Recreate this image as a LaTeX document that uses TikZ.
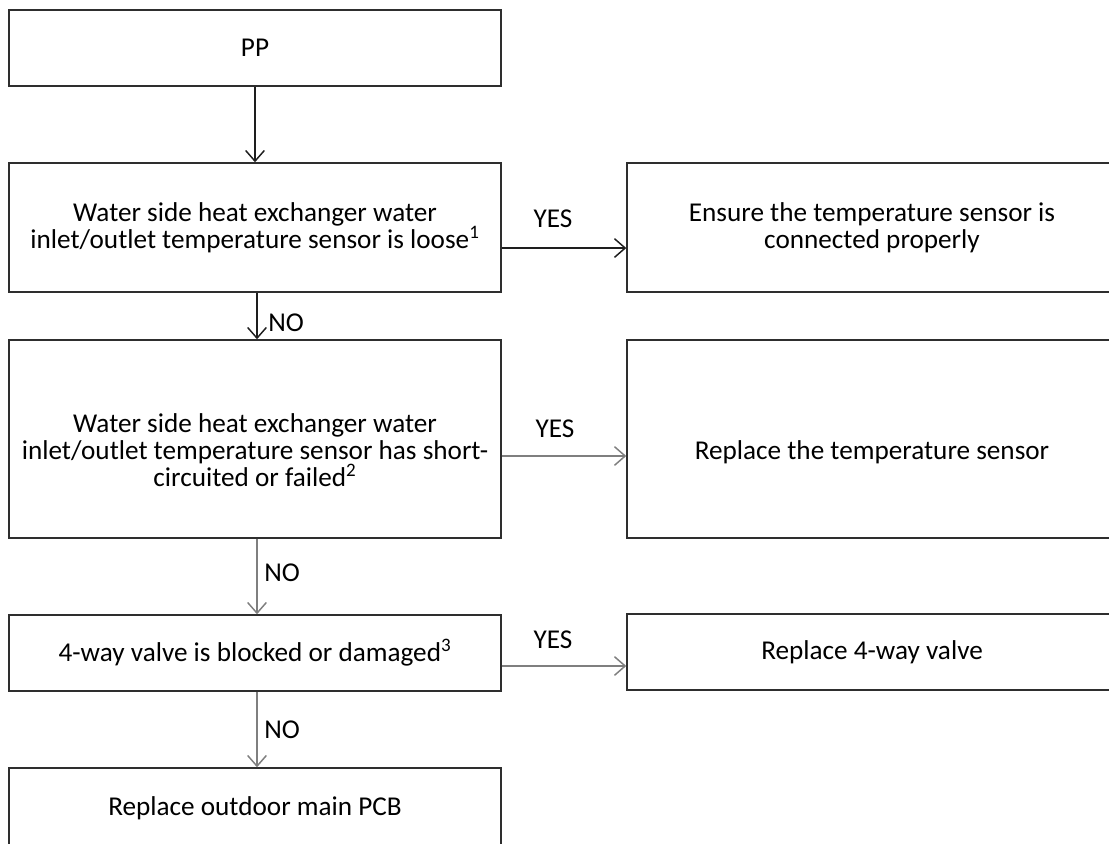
\documentclass[tikz,border=0pt]{standalone}
\usepackage{fontspec}
\setmainfont{Carlito}
\usetikzlibrary{arrows.meta}
\definecolor{boxc}{HTML}{2E2E2E}
\definecolor{darkarr}{HTML}{1E1E1E}
\definecolor{grayarr}{HTML}{7F7F7F}
\newcommand{\boxfont}{\fontsize{20.4pt}{20.25pt}\selectfont}
\begin{document}
\begin{tikzpicture}[x=0.75pt,y=-0.75pt,
  box/.style={draw=boxc, line width=1.1pt, inner sep=0pt, align=center, font=\boxfont, text=black},
  lbox/.style={box, minimum width=369pt},
  rbox/.style={box, minimum width=367.5pt},
  lbl/.style={font=\boxfont, inner sep=0pt, text=black},
  arrB/.style={draw=darkarr, line width=1.1pt, -{Straight Barb[length=8pt,width=14pt,line width=1.1pt]}},
  arrG/.style={draw=grayarr, line width=1.3pt, -{Straight Barb[length=8pt,width=14pt,line width=1.1pt]}}]
\useasboundingbox (0,0) rectangle (1109,843);
\clip (0,0) rectangle (1109,843);

% left column
\node[lbox, minimum height=57pt] (b1) at (255,48) {PP};
\node[lbox, minimum height=96.75pt] (b2) at (255,227.5) {Water side heat exchanger water\\inlet/outlet temperature sensor is loose\textsuperscript{1}};
\node[lbox, minimum height=148.5pt] (b3) at (255,439) {};
\node[lbl, align=center] (t3) at (255,450) {Water side heat exchanger water\\inlet/outlet temperature sensor has short-\\circuited or failed\textsuperscript{2}};
\node[lbox, minimum height=57pt] (b4) at (255,653) {4-way valve is blocked or damaged\textsuperscript{3}};
\node[lbox, minimum height=99pt] (b5) at (255,834) {};
\node[lbl] (t5) at (255,808) {Replace outdoor main PCB};

% right column
\node[rbox, minimum height=96.75pt] (r1) at (872,227.5) {Ensure the temperature sensor is\\connected properly};
\node[rbox, minimum height=148.5pt] (r2) at (872,439) {};
\node[lbl] (t6) at (872,452) {Replace the temperature sensor};
\node[rbox, minimum height=57pt] (r3) at (872,652) {Replace 4-way valve};

% connectors
\draw[arrB] (b1) -- (b2);
\draw[arrB] ([xshift=1.5pt]b2.south) -- ([xshift=1.5pt]b3.north);
\draw[arrG] ([xshift=1.5pt]b3.south) -- ([xshift=1.5pt]b4.north);
\draw[arrG] ([xshift=1.5pt]b4.south) -- ([xshift=1.5pt]b5.north);

\coordinate (y1) at ([yshift=-15.4pt]b2.east);
\coordinate (y2) at ([yshift=-12.75pt]b3.east);
\coordinate (y3) at ([yshift=-9.75pt]b4.east);
\draw[arrB] (y1) -- (y1 -| r1.west);
\draw[arrG] (y2) -- (y2 -| r2.west);
\draw[arrG] (y3) -- (y3 -| r3.west);

% labels
\node[lbl] (yes1) at (553,219) {YES};
\node[lbl] (yes2) at (555,429) {YES};
\node[lbl] (yes3) at (553,640) {YES};
\node[lbl, anchor=west] (no1) at (268,323) {NO};
\node[lbl, anchor=west] (no2) at (264,573) {NO};
\node[lbl, anchor=west] (no3) at (264,730) {NO};
\end{tikzpicture}
\end{document}
